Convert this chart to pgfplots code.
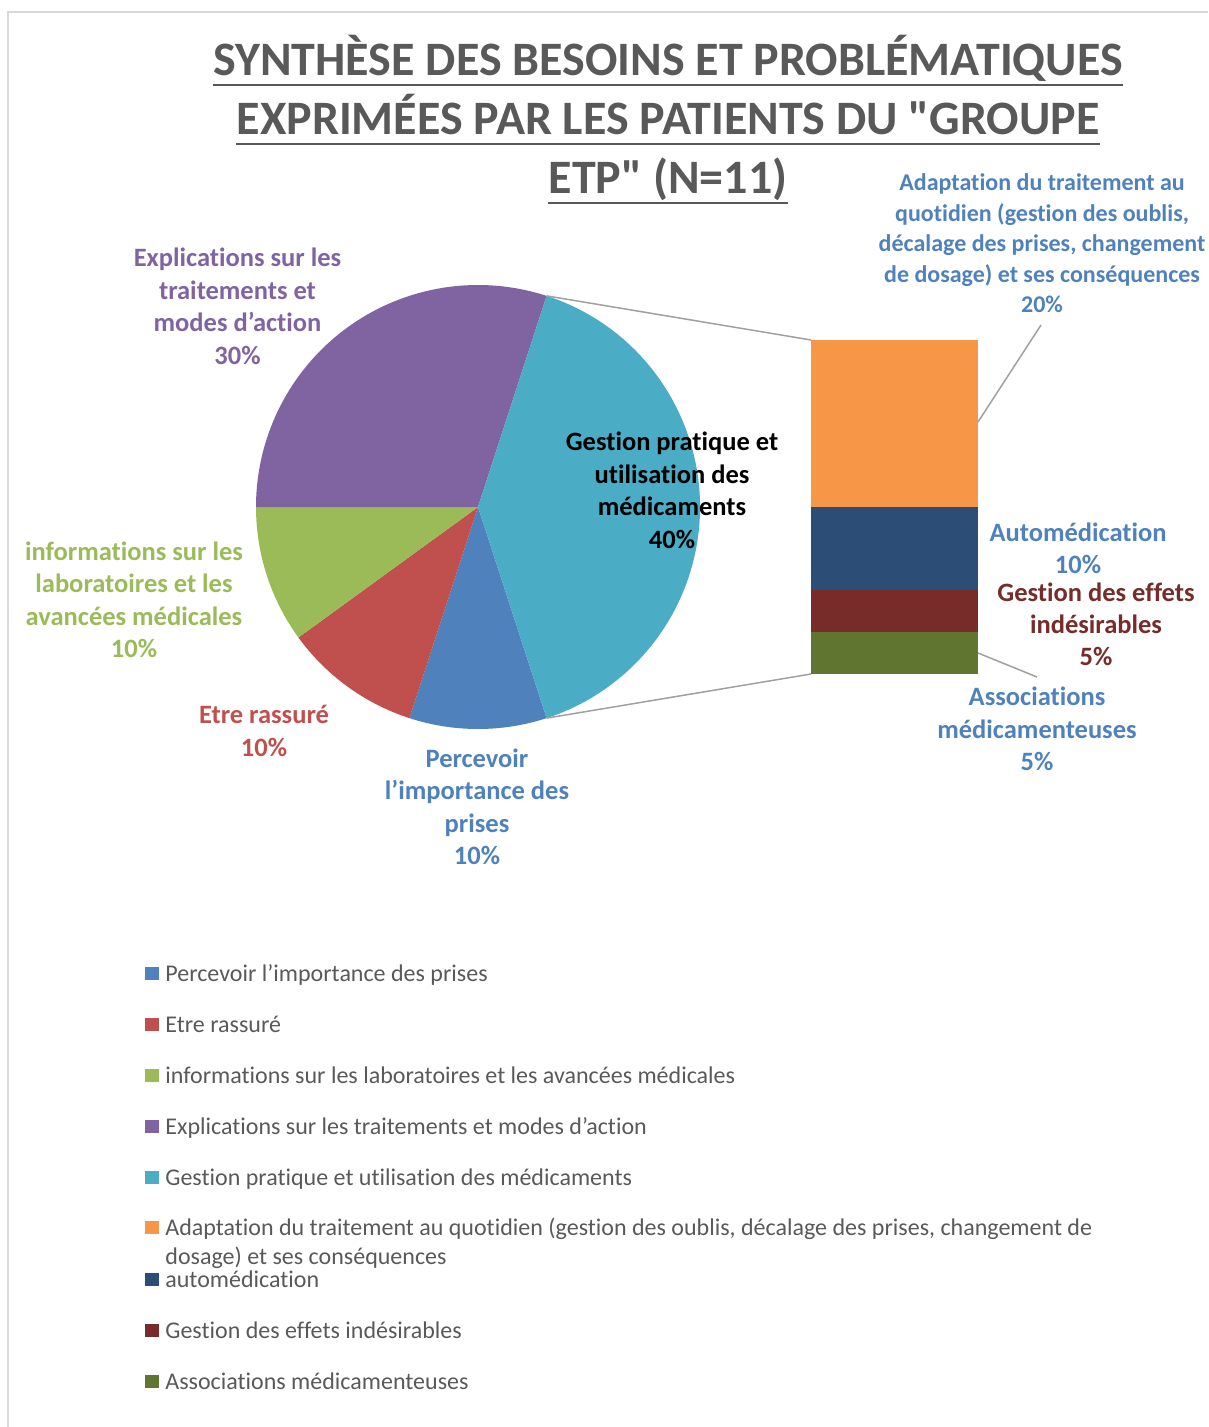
\documentclass[border=0pt]{standalone}
\usepackage{pgfplots}
\pgfplotsset{compat=1.18}
\usepackage{fontspec}
\setmainfont{Carlito}[Ligatures={CommonOff,TeXOff}]

\definecolor{cBlue}{HTML}{4F81BD}
\definecolor{cRed}{HTML}{C0504D}
\definecolor{cGreen}{HTML}{9BBB59}
\definecolor{cPurple}{HTML}{8064A2}
\definecolor{cTeal}{HTML}{4BACC6}
\definecolor{cOrange}{HTML}{F79646}
\definecolor{cBlueD}{HTML}{2C4D75}
\definecolor{cRedD}{HTML}{772C2A}
\definecolor{cGreenD}{HTML}{5F7530}
\definecolor{cTitle}{HTML}{595959}
\definecolor{cFrame}{HTML}{D9D9D9}
\definecolor{cLine}{HTML}{A0A0A0}

\tikzset{
  lbl/.style={font=\bfseries\fontsize{13.25pt}{16pt}\selectfont, inner sep=0pt, anchor=base},
  lbls/.style={font=\bfseries\fontsize{12pt}{14.5pt}\selectfont, inner sep=0pt, anchor=base},
  ttl/.style={font=\bfseries\fontsize{24pt}{28pt}\selectfont, text=cTitle, inner sep=0pt, anchor=base},
  leg/.style={font=\fontsize{12pt}{14.5pt}\selectfont, text=cTitle, inner sep=0pt, anchor=base west},
  conn/.style={draw=cLine, line width=0.75pt},
  uline/.style={cTitle, line width=1.4pt},
}

% pie: 10,10,10,30,40 -> clockwise from -72 deg, 3.6 deg per %
\newcommand{\slice}[3]{\fill[#3] (axis cs:478,507) -- ++(#1:111pt) arc[start angle=#1, delta angle=-3.6*#2, radius=111pt] -- cycle;}

\begin{document}
\begin{tikzpicture}
\begin{axis}[
  name=main, at={(0,0)}, anchor=south west,
  scale only axis, width=604pt, height=713.5pt,
  xmin=0, xmax=1208, ymin=0, ymax=1427, y dir=reverse,
  hide axis, clip=false]
\draw[cFrame, line width=0.8pt] (axis cs:8,1427) -- (axis cs:8,12) -- (axis cs:1208,12);

% title
\node[ttl] (t1) at (axis cs:668,76) {SYNTHÈSE DES BESOINS ET PROBLÉMATIQUES};
\node[ttl] (t2) at (axis cs:668,135) {EXPRIMÉES PAR LES PATIENTS DU "GROUPE};
\node[ttl] (t3) at (axis cs:668,194) {ETP" (N=11)};
\draw[uline] ([yshift=-4.5pt]t1.base west) -- ([yshift=-4.5pt]t1.base east);
\draw[uline] ([yshift=-4.5pt]t2.base west) -- ([yshift=-4.5pt]t2.base east);
\draw[uline] ([yshift=-4.5pt]t3.base west) -- ([yshift=-4.5pt]t3.base east);

% pie slices
\slice{-72}{10}{cBlue}
\slice{-108}{10}{cRed}
\slice{-144}{10}{cGreen}
\slice{-180}{30}{cPurple}
\slice{-288}{40}{cTeal}

% connectors to the bar
\draw[conn] (axis cs:478,507) ++(72:111pt) -- (axis cs:811,340);
\draw[conn] (axis cs:478,507) ++(-72:111pt) -- (axis cs:811,674);
\draw[conn] (axis cs:978,422) -- (axis cs:1041,325);
\draw[conn] (axis cs:978,653) -- (axis cs:1037,677);

% pie labels
\node[lbl, text=cPurple] at (axis cs:237.5,267) {Explications sur les};
\node[lbl, text=cPurple] at (axis cs:237.5,299.5) {traitements et};
\node[lbl, text=cPurple] at (axis cs:237.5,332) {modes d’action};
\node[lbl, text=cPurple] at (axis cs:237.5,364.5) {30\%};

\node[lbl, text=black] at (axis cs:672,450.5) {Gestion pratique et};
\node[lbl, text=black] at (axis cs:672,483) {utilisation des};
\node[lbl, text=black] at (axis cs:672,515.5) {médicaments};
\node[lbl, text=black] at (axis cs:672,548) {40\%};

\node[lbl, text=cGreen] at (axis cs:134,560) {informations sur les};
\node[lbl, text=cGreen] at (axis cs:134,592.5) {laboratoires et les};
\node[lbl, text=cGreen] at (axis cs:134,625) {avancées médicales};
\node[lbl, text=cGreen] at (axis cs:134,657.5) {10\%};

\node[lbl, text=cRed] at (axis cs:264,723.5) {Etre rassuré};
\node[lbl, text=cRed] at (axis cs:264,756) {10\%};

\node[lbl, text=cBlue] at (axis cs:477,767) {Percevoir};
\node[lbl, text=cBlue] at (axis cs:477,799.5) {l’importance des};
\node[lbl, text=cBlue] at (axis cs:477,832) {prises};
\node[lbl, text=cBlue] at (axis cs:477,864.5) {10\%};

% bar labels
\node[lbls, text=cBlue] at (axis cs:1042,191) {Adaptation du traitement au};
\node[lbls, text=cBlue] at (axis cs:1042,221.5) {quotidien (gestion des oublis,};
\node[lbls, text=cBlue] at (axis cs:1042,252) {décalage des prises, changement};
\node[lbls, text=cBlue] at (axis cs:1042,282.5) {de dosage) et ses conséquences};
\node[lbls, text=cBlue] at (axis cs:1042,313) {20\%};

\node[lbl, text=cBlue] at (axis cs:1078,541) {Automédication};
\node[lbl, text=cBlue] at (axis cs:1078,573) {10\%};

\node[lbl, text=cRedD] at (axis cs:1096,601) {Gestion des effets};
\node[lbl, text=cRedD] at (axis cs:1096,633) {indésirables};
\node[lbl, text=cRedD] at (axis cs:1096,665) {5\%};

\node[lbl, text=cBlue] at (axis cs:1037,705.5) {Associations};
\node[lbl, text=cBlue] at (axis cs:1037,738) {médicamenteuses};
\node[lbl, text=cBlue] at (axis cs:1037,770.5) {5\%};

% legend
\fill[cBlue] (axis cs:145,967) rectangle (axis cs:159,980);
\node[leg] at (axis cs:165,981) {Percevoir l’importance des prises};
\fill[cRed] (axis cs:145,1018) rectangle (axis cs:159,1031);
\node[leg] at (axis cs:165,1032) {Etre rassuré};
\fill[cGreen] (axis cs:145,1069) rectangle (axis cs:159,1082);
\node[leg] at (axis cs:165,1083) {informations sur les laboratoires et les avancées médicales};
\fill[cPurple] (axis cs:145,1120) rectangle (axis cs:159,1133);
\node[leg] at (axis cs:165,1134) {Explications sur les traitements et modes d’action};
\fill[cTeal] (axis cs:145,1171) rectangle (axis cs:159,1184);
\node[leg] at (axis cs:165,1185) {Gestion pratique et utilisation des médicaments};
\fill[cOrange] (axis cs:145,1221) rectangle (axis cs:159,1234);
\node[leg] at (axis cs:165,1235) {Adaptation du traitement au quotidien (gestion des oublis, décalage des prises, changement de};
\node[leg] at (axis cs:165,1264) {dosage) et ses conséquences};
\fill[cBlueD] (axis cs:145,1273) rectangle (axis cs:159,1286);
\node[leg] at (axis cs:165,1287) {automédication};
\fill[cRedD] (axis cs:145,1324) rectangle (axis cs:159,1337);
\node[leg] at (axis cs:165,1338) {Gestion des effets indésirables};
\fill[cGreenD] (axis cs:145,1375) rectangle (axis cs:159,1388);
\node[leg] at (axis cs:165,1389) {Associations médicamenteuses};

\coordinate (bbA) at (axis cs:0,0);
\coordinate (bbB) at (axis cs:1208,1427);
\coordinate (barSW) at (axis cs:811,674);
\end{axis}

% bar of the split slice (40% = 20 + 10 + 5 + 5)
\begin{axis}[
  at={(barSW)}, anchor=south west,
  scale only axis, width=83.5pt, height=167pt,
  ybar stacked, bar width=83.5pt,
  xmin=-0.5, xmax=0.5, ymin=0, ymax=40,
  hide axis, clip=false]
\addplot[fill=cGreenD, draw=none] coordinates {(0,5)};
\addplot[fill=cRedD, draw=none] coordinates {(0,5)};
\addplot[fill=cBlueD, draw=none] coordinates {(0,10)};
\addplot[fill=cOrange, draw=none] coordinates {(0,20)};
\end{axis}
\pgfresetboundingbox
\path (bbA) rectangle (bbB);
\end{tikzpicture}
\end{document}
